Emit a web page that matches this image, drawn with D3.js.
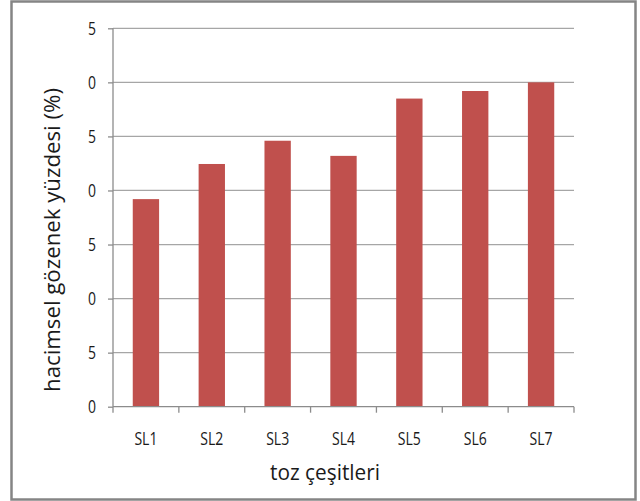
<!DOCTYPE html>
<html>
<head>
<meta charset="utf-8">
<script src="https://cdn.jsdelivr.net/npm/d3@7"></script>
<style>
  html, body { margin: 0; padding: 0; background: #fff; }
  svg { display: block; }
  text { font-family: "Open Sans", "Liberation Sans", sans-serif; fill: #1a1a1a; }
</style>
</head>
<body>
<svg id="chart" width="640" height="501"></svg>
<script>
// Porosity by powder type
const categories = ["SL1", "SL2", "SL3", "SL4", "SL5", "SL6", "SL7"];
const porosity = [19.2, 22.45, 24.6, 23.2, 28.5, 29.2, 30.0];
const yTickValues = [0, 5, 10, 15, 20, 25, 30, 35];
const yTickLabels = ["0", "5", "0", "5", "0", "5", "0", "5"];
const xTitle = "toz çeşitleri";
const yTitle = "hacimsel gözenek yüzdesi (%)";

const svg = d3.select("#chart");

// outer frame
svg.append("rect")
  .attr("x", 11.5).attr("y", 1.5)
  .attr("width", 624).attr("height", 498)
  .attr("fill", "none")
  .attr("stroke", "#858585")
  .attr("stroke-width", 2.5);

const plot = { left: 113, right: 574, top: 28.3, bottom: 406.7 };

const x = d3.scaleBand()
  .domain(categories)
  .range([plot.left, plot.right])
  .padding(0);

const y = d3.scaleLinear()
  .domain([0, 35])
  .range([plot.bottom, plot.top]);

// horizontal gridlines
svg.append("g")
  .selectAll("line")
  .data(yTickValues.filter(v => v > 0))
  .join("line")
  .attr("x1", plot.left).attr("x2", plot.right)
  .attr("y1", d => y(d)).attr("y2", d => y(d))
  .attr("stroke", "#a6a6a6")
  .attr("stroke-width", 1.3);

// bars
const barFrac = 0.4;
svg.append("g")
  .selectAll("rect")
  .data(categories.map((c, i) => ({ c, v: porosity[i] })))
  .join("rect")
  .attr("x", d => x(d.c) + x.bandwidth() * (1 - barFrac) / 2)
  .attr("width", x.bandwidth() * barFrac)
  .attr("y", d => y(d.v))
  .attr("height", d => y(0) - y(d.v))
  .attr("fill", "#c0504d");

// y axis
const yAxis = d3.axisLeft(y)
  .tickValues(yTickValues)
  .tickSize(5)
  .tickPadding(12)
  .tickFormat((d, i) => yTickLabels[i]);
const gy = svg.append("g")
  .attr("transform", `translate(${plot.left},0)`)
  .call(yAxis);
gy.select(".domain").attr("stroke", "#8c8c8c").attr("stroke-width", 1.3)
  .attr("d", `M0,${plot.top}V${plot.bottom}`);
gy.selectAll(".tick line").attr("stroke", "#8c8c8c").attr("stroke-width", 1.3);
gy.selectAll(".tick text")
  .style("font-family", "'Open Sans', sans-serif")
  .style("font-size", "18px")
  .attr("textLength", 8)
  .attr("lengthAdjust", "spacingAndGlyphs")
  .attr("fill", "#1a1a1a");

// x axis with ticks at category boundaries
const gx = svg.append("g")
  .attr("transform", `translate(0,${plot.bottom})`);
gx.append("line")
  .attr("x1", plot.left).attr("x2", plot.right)
  .attr("stroke", "#8c8c8c").attr("stroke-width", 1.3);
const boundaries = categories.map(c => x(c)).concat([x(categories[categories.length - 1]) + x.bandwidth()]);
gx.selectAll("line.tk")
  .data(boundaries)
  .join("line")
  .attr("class", "tk")
  .attr("x1", d => d).attr("x2", d => d)
  .attr("y1", 0).attr("y2", 6)
  .attr("stroke", "#8c8c8c").attr("stroke-width", 1.3);
gx.selectAll("text")
  .data(categories)
  .join("text")
  .attr("x", d => x(d) + x.bandwidth() / 2)
  .attr("y", 38.3)
  .attr("text-anchor", "middle")
  .attr("textLength", 23)
  .attr("lengthAdjust", "spacingAndGlyphs")
  .style("font-size", "18.5px")
  .text(d => d);

// axis titles
svg.append("text")
  .attr("x", 325).attr("y", 480)
  .attr("text-anchor", "middle")
  .attr("textLength", 110)
  .attr("lengthAdjust", "spacingAndGlyphs")
  .style("font-size", "21px")
  .text(xTitle);

svg.append("text")
  .attr("transform", "translate(60,240) rotate(-90)")
  .attr("text-anchor", "middle")
  .attr("textLength", 304)
  .attr("lengthAdjust", "spacingAndGlyphs")
  .style("font-size", "21px")
  .text(yTitle);
</script>
</body>
</html>
